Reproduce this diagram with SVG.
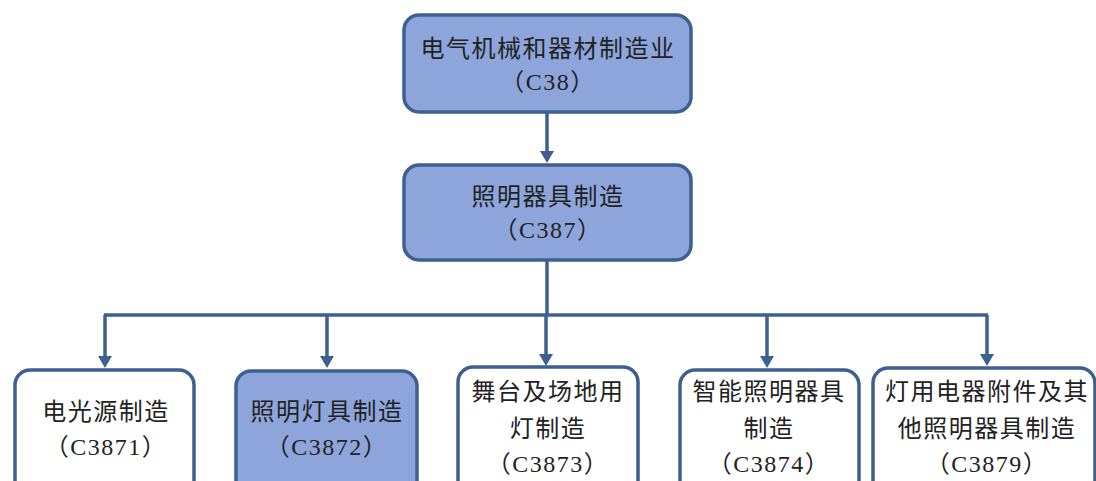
<svg xmlns="http://www.w3.org/2000/svg" width="1096" height="481" viewBox="0 0 1096 481">
<defs>
<style>
.box{stroke:#3E6090;stroke-width:3.5}
.fill{fill:#8EA5DC}
.white{fill:#FFFFFF}
.t{font-family:"Liberation Serif","Noto Sans CJK SC",serif;font-size:24px;fill:#222;text-anchor:middle;letter-spacing:1.5px}
.c{fill:none;stroke:#3E6090;stroke-width:3.5}
</style>
<marker id="ah" markerUnits="userSpaceOnUse" markerWidth="14" markerHeight="14" viewBox="0 0 14 14" refX="7" refY="12" orient="auto-start-reverse">
<path d="M1,0 L13,0 L7,12 Z" fill="#3E6090" transform="rotate(-90 7 7)"/>
</marker>
</defs>
<rect width="1096" height="481" fill="#FFFFFF"/>
<g id="connectors">
<path class="c" d="M547,112 V152"/>
<polygon points="540,151 554,151 547,163" fill="#3E6090"/>
<path class="c" d="M547,260 V315 M104,315 H988"/>
<path class="c" d="M105,315 V357"/>
<polygon points="98,356 112,356 105,368" fill="#3E6090"/>
<path class="c" d="M327,315 V357"/>
<polygon points="320,356 334,356 327,368" fill="#3E6090"/>
<path class="c" d="M546,315 V355"/>
<polygon points="539,354 553,354 546,366" fill="#3E6090"/>
<path class="c" d="M767,315 V357"/>
<polygon points="760,356 774,356 767,368" fill="#3E6090"/>
<path class="c" d="M987,315 V355"/>
<polygon points="980,354 994,354 987,366" fill="#3E6090"/>
</g>
<g id="n_c38">
<rect class="box fill" x="404" y="15" width="287" height="97" rx="15"/>
<text class="t" x="548" y="57">电气机械和器材制造业</text>
<text class="t" x="548" y="90">（C38）</text>
</g>
<g id="n_c387">
<rect class="box fill" x="404" y="165" width="287" height="95" rx="15"/>
<text class="t" x="548" y="205">照明器具制造</text>
<text class="t" x="548" y="238">（C387）</text>
</g>
<g id="n_c3871">
<rect class="box white" x="15" y="370" width="179" height="130" rx="15"/>
<text class="t" x="106" y="420">电光源制造</text>
<text class="t" x="106" y="455">（C3871）</text>
</g>
<g id="n_c3872">
<rect class="box fill" x="236" y="371" width="181" height="130" rx="15"/>
<text class="t" x="327" y="420">照明灯具制造</text>
<text class="t" x="327" y="455">（C3872）</text>
</g>
<g id="n_c3873">
<rect class="box white" x="458" y="367" width="180" height="130" rx="15"/>
<text class="t" x="548" y="400">舞台及场地用</text>
<text class="t" x="548" y="437">灯制造</text>
<text class="t" x="548" y="472">（C3873）</text>
</g>
<g id="n_c3874">
<rect class="box white" x="680" y="370" width="179" height="130" rx="15"/>
<text class="t" x="769" y="400">智能照明器具</text>
<text class="t" x="769" y="437">制造</text>
<text class="t" x="769" y="472">（C3874）</text>
</g>
<g id="n_c3879">
<rect class="box white" x="873" y="368" width="222" height="130" rx="15"/>
<text class="t" x="987" y="400">灯用电器附件及其</text>
<text class="t" x="987" y="437">他照明器具制造</text>
<text class="t" x="987" y="472">（C3879）</text>
</g>
</svg>
